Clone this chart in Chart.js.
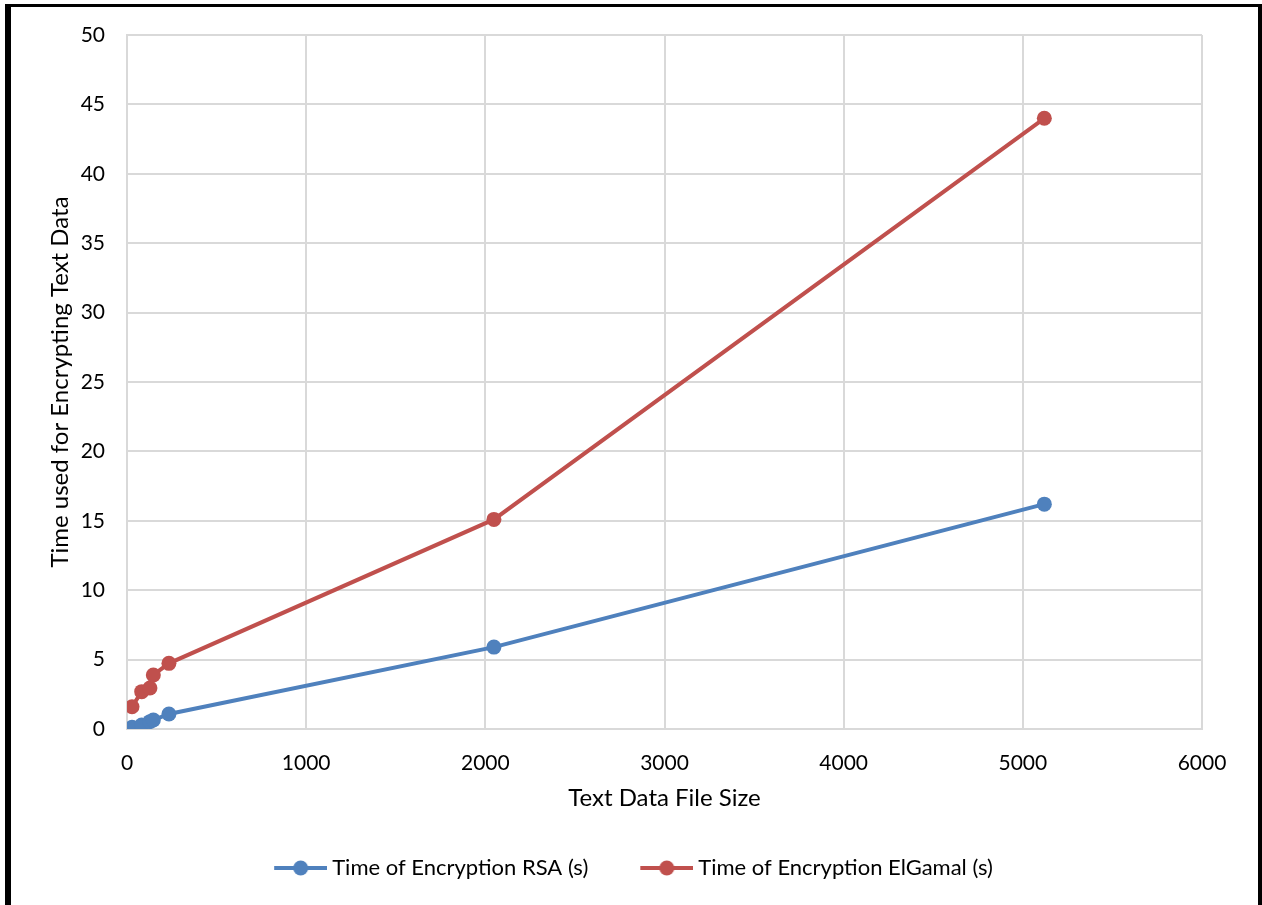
<!DOCTYPE html>
<html>
<head>
<meta charset="utf-8">
<script src="https://cdn.jsdelivr.net/npm/chart.js@4/dist/chart.umd.min.js"></script>
<style>
  body { margin: 0; background: #fff; }
  #wrap { position: absolute; left: 0; top: 0; width: 1262px; height: 905px; }
  #frame {
    position: absolute; left: 5px; top: 4px; width: 1247px; height: 1000px;
    border-left: 6px solid #000; border-top: 3px solid #000; border-right: 4px solid #000;
    pointer-events: none;
  }
</style>
</head>
<body>
<div id="wrap"><canvas id="myChart"></canvas></div>
<div id="frame"></div>
<script>
// Data
var fileSizes = [28, 82, 128, 147, 234, 2048, 5120];
var rsaTimes = [0.12, 0.29, 0.53, 0.65, 1.08, 5.9, 16.2];
var elgamalTimes = [1.6, 2.69, 2.95, 3.89, 4.73, 15.1, 44.0];
var seriesNames = ['Time of Encryption RSA (s)', 'Time of Encryption ElGamal (s)'];
var xTitle = 'Text Data File Size';
var yTitle = 'Time used for Encrypting Text Data';

var blue = '#4f81bd';
var red = '#c0504d';
var grid = '#d9d9d9';
var font = 'Lato';

function toPoints(xs, ys) {
    return xs.map(function (x, i) { return { x: x, y: ys[i] }; });
}

// legend marker: a short line with a dot in the middle
// (canvas is wider than the visible mark so it sits a bit right of the legend box)
function legendMarker(color) {
    var c = document.createElement('canvas');
    c.width = 64;
    c.height = 18;
    var g = c.getContext('2d');
    g.strokeStyle = color;
    g.lineWidth = 4;
    g.beginPath();
    g.moveTo(11, 9);
    g.lineTo(64, 9);
    g.stroke();
    g.fillStyle = color;
    g.beginPath();
    g.arc(37.5, 9, 7.5, 0, Math.PI * 2);
    g.fill();
    return c;
}

var ctx = document.getElementById('myChart').getContext('2d');
var myChart = new Chart(ctx, {
    type: 'line',
    data: {
        datasets: [{
            label: seriesNames[0],
            data: toPoints(fileSizes, rsaTimes),
            borderColor: blue,
            backgroundColor: blue,
            borderWidth: 4,
            pointRadius: 7.5,
            pointHoverRadius: 7.5,
            pointBorderWidth: 0,
            legendMarker: legendMarker(blue)
        }, {
            label: seriesNames[1],
            data: toPoints(fileSizes, elgamalTimes),
            borderColor: red,
            backgroundColor: red,
            borderWidth: 4,
            pointRadius: 7.5,
            pointHoverRadius: 7.5,
            pointBorderWidth: 0,
            legendMarker: legendMarker(red)
        }]
    },
    options: {
        responsive: true,
        maintainAspectRatio: false,
        animation: false,
        layout: { padding: { left: 0, right: 0, top: 35, bottom: 16 } },
        plugins: {
            tooltip: { enabled: false },
            legend: {
                position: 'bottom',
                labels: {
                    usePointStyle: true,
                    pointStyleWidth: 52,
                    padding: 47,
                    color: '#000',
                    font: { family: font, size: 22 },
                    generateLabels: function (chart) {
                        return chart.data.datasets.map(function (ds, i) {
                            return {
                                text: ds.label,
                                pointStyle: ds.legendMarker,
                                fillStyle: ds.borderColor,
                                strokeStyle: ds.borderColor,
                                lineWidth: 0,
                                hidden: false,
                                datasetIndex: i,
                                fontColor: '#000'
                            };
                        });
                    }
                }
            }
        },
        scales: {
            x: {
                type: 'linear',
                min: 0,
                max: 6000,
                ticks: {
                    stepSize: 1000, color: '#000', padding: 22, font: { family: font, size: 21 },
                    callback: function (v) { return String(v); }
                },
                grid: { color: grid, lineWidth: 2, drawTicks: false },
                border: { color: grid, width: 2 },
                title: { display: true, text: xTitle, color: '#000', font: { family: font, size: 24, lineHeight: 1 }, padding: { top: 0, bottom: 0 } },
                afterFit: function (scale) { scale.height = 81; }
            },
            y: {
                min: 0,
                max: 50,
                ticks: { stepSize: 5, color: '#000', padding: 22, font: { family: font, size: 21 } },
                grid: { color: grid, lineWidth: 2, drawTicks: false },
                border: { color: grid, width: 2 },
                title: { display: true, text: yTitle, color: '#000', font: { family: font, size: 24, lineHeight: 1 }, padding: { top: 48, bottom: 0 } },
                afterFit: function (scale) { scale.width = 127; }
            },
            // empty spacer on the right so the plot ends where the reference does
            yRight: {
                position: 'right',
                min: 0,
                max: 1,
                ticks: { display: false },
                grid: { display: false },
                border: { display: false },
                afterFit: function (scale) { scale.width = 60; }
            }
        }
    }
});
</script>
</body>
</html>
